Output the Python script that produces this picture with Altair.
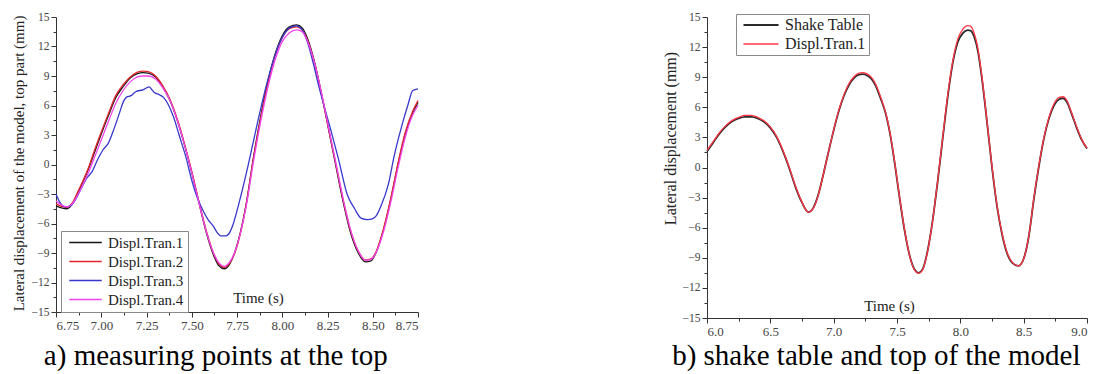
import altair as alt
import pandas as pd
import numpy as np

FONT = "Liberation Serif"

# ---------------- panel a) data ----------------
TA = [6.75, 6.78, 6.81, 6.84, 6.87, 6.90, 6.93, 6.96,
      7.00, 7.04, 7.08, 7.12, 7.16, 7.20,
      7.23, 7.26, 7.30, 7.34, 7.38, 7.42, 7.46, 7.50, 7.54, 7.58, 7.62, 7.65, 7.68,
      7.71, 7.74, 7.77, 7.80, 7.84, 7.88, 7.92, 7.96, 8.00, 8.04, 8.08,
      8.11, 8.14, 8.18, 8.22, 8.26, 8.30, 8.34, 8.38, 8.42, 8.46,
      8.49, 8.52, 8.56, 8.60, 8.64, 8.68, 8.72, 8.75]
TRAN1_A = [-4.2, -4.4, -4.5, -4.0, -2.9, -1.7, -0.4, 1.1,
           3.1, 5.0, 6.8, 7.9, 8.8, 9.25,
           9.35, 9.3, 8.9, 7.9, 6.5, 4.5, 2.0, -0.8, -3.9, -6.9, -9.2, -10.3, -10.6,
           -10.1, -8.8, -6.8, -4.1, 0.6, 4.8, 8.4, 11.2, 13.1, 14.0, 14.2,
           13.9, 12.8, 10.3, 6.9, 3.2, -0.5, -4.1, -7.1, -9.0, -9.9,
           -9.8, -8.9, -6.6, -3.5, 0.0, 3.1, 5.2, 6.3]
TRAN2_A = [-4.0, -4.25, -4.35, -3.9, -2.8, -1.6, -0.3, 1.3,
           3.3, 5.2, 7.0, 8.1, 8.9, 9.4,
           9.5, 9.45, 9.0, 8.0, 6.6, 4.6, 2.1, -0.7, -3.8, -6.7, -9.0, -10.1, -10.45,
           -10.0, -8.9, -6.9, -4.2, 0.5, 4.6, 8.2, 11.0, 12.9, 13.8, 14.0,
           13.7, 12.6, 10.2, 6.9, 3.3, -0.3, -3.9, -6.9, -8.8, -9.7,
           -9.6, -8.8, -6.5, -3.4, 0.2, 3.3, 5.4, 6.5]
TRAN4_A = [-3.7, -4.1, -4.3, -4.0, -3.1, -2.0, -0.8, 0.6,
           2.5, 4.4, 6.2, 7.5, 8.4, 8.9,
           9.0, 9.0, 8.7, 7.8, 6.5, 4.5, 2.0, -0.8, -3.9, -6.8, -9.0, -10.0, -10.35,
           -9.9, -8.8, -6.9, -4.3, 0.2, 4.3, 7.8, 10.6, 12.5, 13.4, 13.7,
           13.5, 12.5, 10.2, 7.0, 3.4, -0.2, -3.8, -6.8, -8.8, -9.75,
           -9.65, -8.9, -6.8, -3.8, -0.3, 2.8, 5.0, 6.0]
TB = [6.75, 6.77, 6.80, 6.83, 6.86, 6.89, 6.92, 6.95, 6.98, 7.01,
      7.04, 7.07, 7.10, 7.125, 7.14, 7.165, 7.19, 7.23, 7.265, 7.28,
      7.295, 7.32, 7.345, 7.37, 7.40, 7.43, 7.47, 7.50, 7.525, 7.56,
      7.59, 7.62, 7.64, 7.66, 7.69, 7.71, 7.73, 7.76, 7.80, 7.84,
      7.88, 7.92, 7.96, 8.00, 8.04, 8.08, 8.11, 8.14, 8.17, 8.20,
      8.235, 8.27, 8.31, 8.36, 8.40, 8.435, 8.47, 8.50, 8.52, 8.546,
      8.585, 8.62, 8.657, 8.695, 8.72, 8.75]
TRAN3_A = [-3.0, -3.8, -4.3, -4.2, -3.5, -2.4, -1.4, -0.7, 0.5, 1.5,
           2.2, 3.6, 5.2, 6.5, 6.85, 7.0, 7.4, 7.6, 7.9, 7.6,
           7.3, 7.1, 6.8, 6.1, 4.8, 3.0, 0.6, -1.6, -3.1, -4.6,
           -5.6, -6.3, -6.9, -7.25, -7.25, -6.9, -6.0, -4.0, -1.0, 2.3,
           5.6, 8.6, 11.1, 12.9, 13.9, 14.1, 13.7, 12.4, 10.4, 8.1,
           5.7, 3.4, 0.6, -3.1, -4.5, -5.45, -5.6, -5.5, -5.2, -4.2,
           -2.1, 1.0, 3.7, 6.1, 7.5, 7.7]

A_NAMES = ["Displ.Tran.1", "Displ.Tran.2", "Displ.Tran.3", "Displ.Tran.4"]
A_COLORS = ["#151515", "#e3262e", "#3838cc", "#f244ee"]

# ---------------- panel b) data ----------------
TR = [6.00, 6.05, 6.10, 6.15, 6.20, 6.25, 6.30, 6.35, 6.40, 6.45, 6.50, 6.55, 6.60, 6.65, 6.70, 6.75, 6.80,
      6.84, 6.88, 6.92, 6.96, 7.00, 7.04, 7.08, 7.12, 7.16, 7.20,
      7.23, 7.26, 7.30, 7.33, 7.37, 7.41, 7.45, 7.49, 7.52, 7.56, 7.60, 7.64, 7.67,
      7.70, 7.74, 7.78, 7.82, 7.86, 7.90, 7.94, 7.98, 8.02, 8.06, 8.08,
      8.11, 8.14, 8.17, 8.21, 8.25, 8.29, 8.33, 8.37, 8.41, 8.46,
      8.50, 8.54, 8.58, 8.62, 8.66, 8.70, 8.74, 8.78, 8.81, 8.84, 8.88, 8.92, 8.96, 9.00]
SHAKE_B = [1.6, 2.5, 3.4, 4.1, 4.6, 4.9, 5.05, 5.05, 4.9, 4.55, 3.95, 3.0, 1.6, -0.1, -2.0, -3.5, -4.45,
           -4.0, -2.65, -0.6, 1.6, 3.7, 5.6, 7.1, 8.2, 8.9, 9.25,
           9.3, 9.2, 8.8, 8.2, 6.9, 5.4, 3.0, -0.3, -3.0, -6.3, -8.8, -10.2, -10.5,
           -10.2, -8.4, -5.4, -1.5, 2.8, 7.0, 10.4, 12.5, 13.4, 13.7, 13.65,
           13.0, 11.5, 8.9, 4.6, 0.0, -3.9, -6.7, -8.6, -9.5, -9.8,
           -9.1, -6.9, -3.2, 0.1, 2.9, 4.9, 6.2, 6.8, 6.9, 6.55, 5.3, 3.9, 2.7, 1.9]
TRAN1_B = [1.7, 2.6, 3.5, 4.2, 4.7, 5.0, 5.2, 5.2, 5.0, 4.65, 4.05, 3.1, 1.7, 0.0, -1.9, -3.45, -4.45,
           -4.05, -2.7, -0.6, 1.6, 3.75, 5.7, 7.2, 8.35, 9.05, 9.4,
           9.45, 9.35, 8.95, 8.35, 7.05, 5.5, 3.1, -0.2, -2.9, -6.2, -8.8, -10.25, -10.55,
           -10.25, -8.45, -5.4, -1.4, 2.9, 7.2, 10.6, 12.8, 13.8, 14.15, 14.1,
           13.35, 11.8, 9.1, 4.7, 0.1, -3.8, -6.6, -8.5, -9.45, -9.8,
           -9.1, -6.9, -3.1, 0.2, 3.0, 5.0, 6.35, 7.0, 7.05, 6.7, 5.4, 4.0, 2.75, 1.95]

B_NAMES = ["Shake Table", "Displ.Tran.1"]
B_COLORS = ["#2b2b2b", "#ff3545"]

Y_VALUES = [float(v) for v in np.arange(-15, 15.01, 1.5)]
XA_VALUES = [float(v) for v in np.arange(6.75, 8.7501, 0.125)]
XB_VALUES = [float(v) for v in np.arange(6.0, 9.0001, 0.25)]


def long_df(series):
    rows = []
    for name, ts, vs in series:
        for i, (t, v) in enumerate(zip(ts, vs)):
            rows.append({"t": t, "v": v, "series": name, "i": i})
    return pd.DataFrame(rows)


dfA = long_df([(A_NAMES[0], TA, TRAN1_A), (A_NAMES[1], TA, TRAN2_A),
               (A_NAMES[2], TB, TRAN3_A), (A_NAMES[3], TA, TRAN4_A)])
dfB = long_df([(B_NAMES[0], TR, SHAKE_B), (B_NAMES[1], TR, TRAN1_B)])


def major_test(mult):
    return f"abs(datum.value*{mult} - round(datum.value*{mult})) < 0.001"


def tick_axis(values, mult, fmt, label_size, **kw):
    test = major_test(mult)
    return alt.Axis(
        values=values,
        labelExpr=f"({test}) ? format(datum.value, '{fmt}') : ''",
        tickSize={"condition": {"test": test, "value": 5}, "value": 3},
        labelOverlap=False,
        grid=False,
        domainColor="#333333",
        tickColor="#333333",
        labelColor="#444444",
        labelFont=FONT,
        labelFontSize=label_size,
        labelPadding=2,
        titleFont=FONT,
        titleFontWeight="normal",
        titleColor="#222222",
        titleLimit=600,
        **kw,
    )


def line_legend(x, y, size, path, label_size, pad, row_pad, label_offset):
    return alt.Legend(orient="none", legendX=x, legendY=y, title=None,
                      symbolType=path, symbolSize=size, symbolStrokeWidth=1.5,
                      symbolFillColor="transparent",
                      labelFont=FONT, labelFontSize=label_size, labelColor="#222222",
                      padding=pad, strokeColor="#8a8a8a", fillColor="white",
                      rowPadding=row_pad, labelOffset=label_offset)


# ---------------- panel a) ----------------
WA, HA = 362, 295
chartA = alt.Chart(dfA).mark_line(strokeWidth=1.3, interpolate="monotone").encode(
    x=alt.X("t:Q", scale=alt.Scale(domain=[6.75, 8.75], nice=False, zero=False),
            axis=tick_axis(XA_VALUES, 4, ".2f", 13, title="Time (s)", titleFontSize=15,
                           titleX=202, titleY=-10, titleAlign="center",
                           titleBaseline="alphabetic")),
    y=alt.Y("v:Q", scale=alt.Scale(domain=[-15, 15], nice=False, zero=False),
            axis=tick_axis(Y_VALUES, 1 / 3, "d", 11.5,
                           title="Lateral displacement of the model, top part (mm)",
                           titleFontSize=15, titleX=-38, titleY=146,
                           titleAngle=270, titleAlign="center", titleBaseline="middle")),
    color=alt.Color("series:N", scale=alt.Scale(domain=A_NAMES, range=A_COLORS),
                    legend=line_legend(5, 214, 169, "M-0.5,0H4.5", 15, 4, 3, 28)),
    order="i:Q",
).properties(
    width=WA, height=HA,
    title=alt.TitleParams("a) measuring points at the top", orient="bottom",
                          anchor="middle", frame="bounds", font=FONT, fontSize=29,
                          fontWeight="normal", color="black", offset=10),
)

# ---------------- panel b) ----------------
WB, HB = 380, 301
chartB = alt.Chart(dfB).mark_line(interpolate="monotone").encode(
    x=alt.X("t:Q", scale=alt.Scale(domain=[6.0, 9.0], nice=False, zero=False),
            axis=tick_axis(XB_VALUES, 2, ".1f", 13, title="Time (s)", titleFontSize=15,
                           titleX=182, titleY=-8, titleAlign="center",
                           titleBaseline="alphabetic")),
    y=alt.Y("v:Q", scale=alt.Scale(domain=[-15, 15], nice=False, zero=False),
            axis=tick_axis(Y_VALUES, 1 / 3, "d", 11.5,
                           title="Lateral displacement (mm)",
                           titleFontSize=16, titleX=-37, titleY=121,
                           titleAngle=270, titleAlign="center", titleBaseline="middle")),
    color=alt.Color("series:N", scale=alt.Scale(domain=B_NAMES, range=B_COLORS),
                    legend=line_legend(29, -3, 169, "M-0.54,0H4.85", 16, 3, 3, 30)),
    strokeWidth=alt.StrokeWidth("series:N", scale=alt.Scale(domain=B_NAMES, range=[1.8, 1.3]),
                                legend=None),
    order="i:Q",
).properties(
    width=WB, height=HB,
    title=alt.TitleParams("b) shake table and top of the model", orient="bottom",
                          anchor="middle", frame="bounds", font=FONT, fontSize=29,
                          fontWeight="normal", color="black", offset=4),
)

chart = alt.hconcat(chartA, chartB, spacing=240).resolve_scale(
    color="independent", strokeWidth="independent"
).resolve_legend(color="independent").properties(
    padding={"left": 2, "top": 3, "right": 0, "bottom": 0}
).configure_view(stroke=None)

chart.save("out.html", embed_options={"renderer": "svg", "actions": False})
